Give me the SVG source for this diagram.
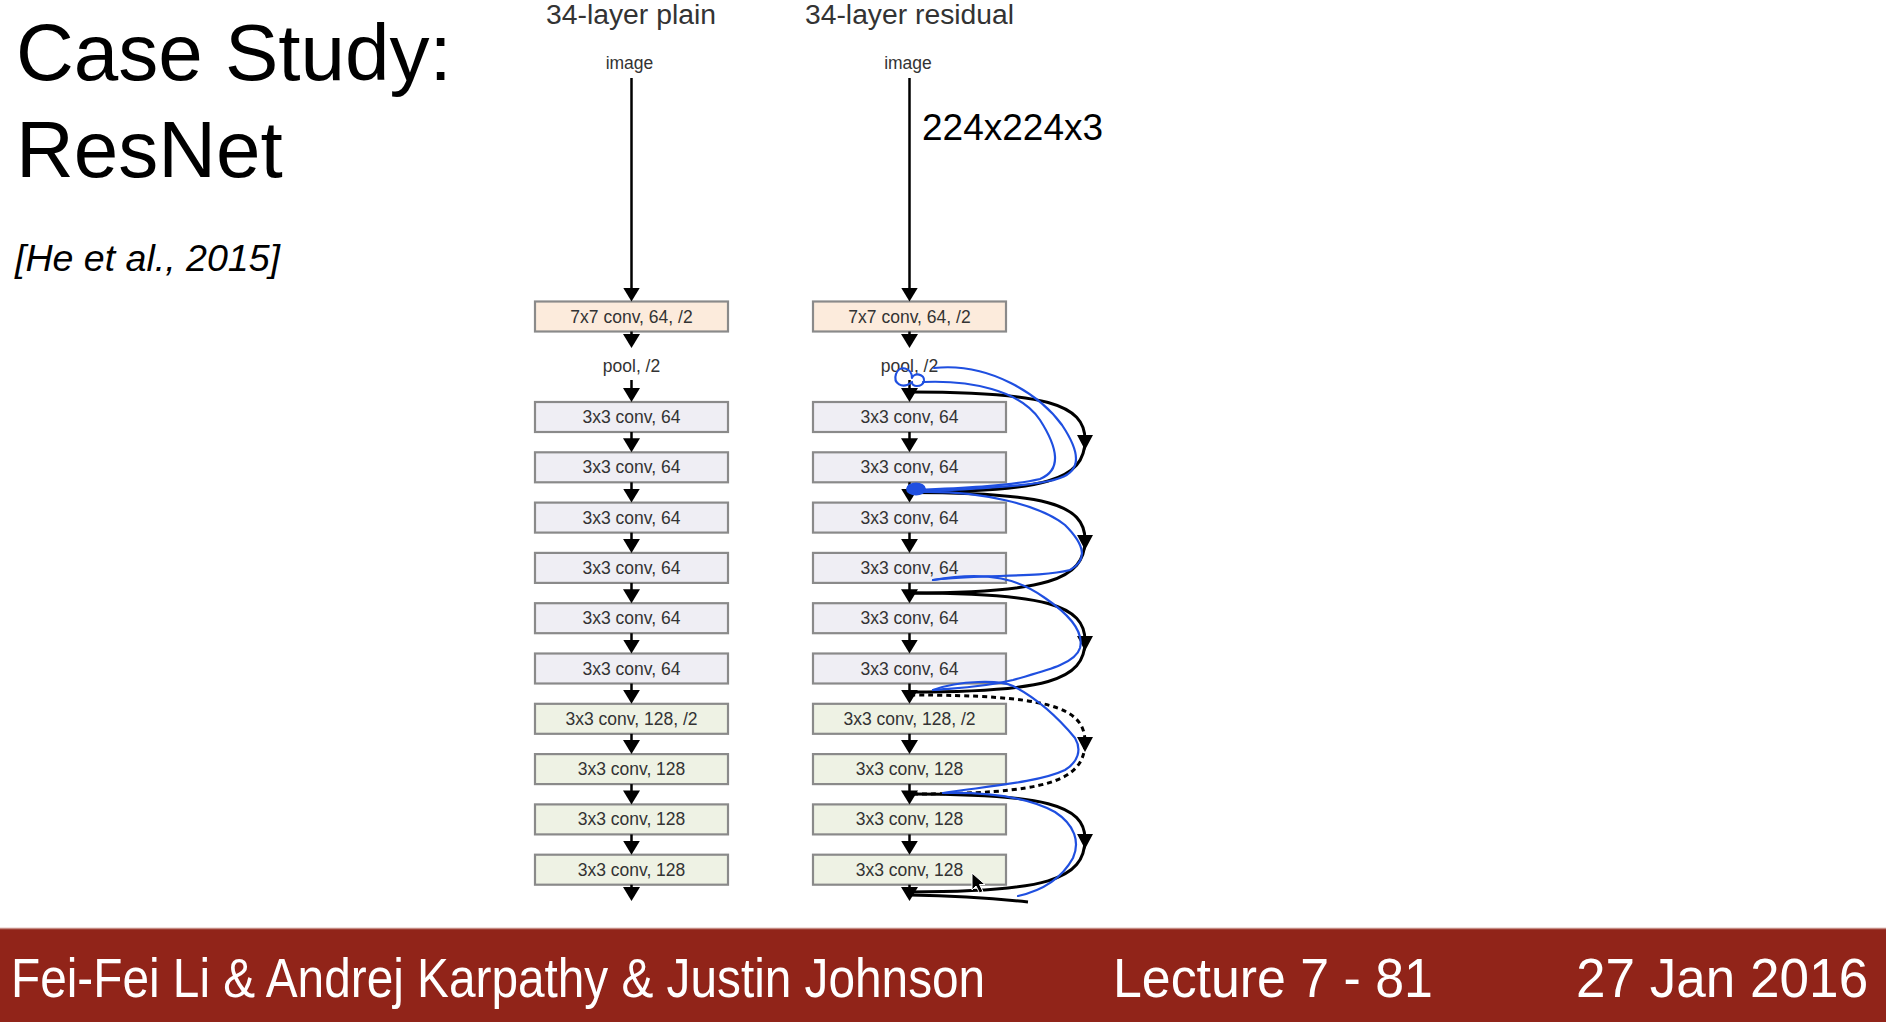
<svg xmlns="http://www.w3.org/2000/svg" width="1886" height="1022" viewBox="0 0 1886 1022">
<style>
.title{font-family:"Liberation Sans",Arial,sans-serif;font-size:80px;fill:#000}
.cite{font-family:"Liberation Sans",Arial,sans-serif;font-size:36px;font-style:italic;fill:#000}
.hdr{font-family:"Liberation Sans",Arial,sans-serif;font-size:27px;fill:#333;text-anchor:middle}
.lbl{font-family:"Liberation Sans",Arial,sans-serif;font-size:17.5px;fill:#333;text-anchor:middle}
.dim{font-family:"Liberation Sans",Arial,sans-serif;font-size:37px;fill:#000}
.box{stroke:#8a8a8a;stroke-width:2.2}
.b7{fill:#fcebdc}
.b64{fill:#efeef4}
.b128{fill:#eef2e4}
.v{stroke:#000;stroke-width:2.5;fill:none;marker-end:url(#ah)}
.sc{stroke:#000;stroke-width:3;fill:none}
.dash{stroke-dasharray:5 4}
.bl{stroke:#1f4fe0;stroke-width:2.2;fill:none;stroke-linecap:round;stroke-linejoin:round}
.foot{font-family:"Liberation Sans",Arial,sans-serif;font-size:56px;fill:#fff}
</style>
<defs>
<marker id="ah" markerUnits="userSpaceOnUse" markerWidth="15" markerHeight="17" refX="11" refY="8.5" orient="auto">
<path d="M0,0 L14,8.5 L0,17 z" fill="#000"/>
</marker>
</defs>
<rect width="1886" height="1022" fill="#fff"/>

<g id="title">
<text class="title" x="16" y="80">Case Study:</text>
<text class="title" x="16" y="177">ResNet</text>
<text class="cite" x="15" y="271" textLength="265" lengthAdjust="spacingAndGlyphs">[He et al., 2015]</text>
</g>

<g id="headers">
<text class="hdr" x="631" y="24" textLength="170" lengthAdjust="spacingAndGlyphs">34-layer plain</text>
<text class="hdr" x="909.5" y="24" textLength="209" lengthAdjust="spacingAndGlyphs">34-layer residual</text>
</g>

<!-- plain column nodes -->
<g id="plain-image"><text class="lbl" x="629.5" y="69">image</text></g>
<g id="plain-conv1"><rect class="box b7" x="535" y="301.5" width="193" height="30"/><text class="lbl" x="631.5" y="322.5">7x7 conv, 64, /2</text></g>
<g id="plain-pool"><text class="lbl" x="631.5" y="372">pool, /2</text></g>
<g id="plain-c1"><rect class="box b64" x="535" y="402" width="193" height="30"/><text class="lbl" x="631.5" y="423">3x3 conv, 64</text></g>
<g id="plain-c2"><rect class="box b64" x="535" y="452.3" width="193" height="30"/><text class="lbl" x="631.5" y="473.3">3x3 conv, 64</text></g>
<g id="plain-c3"><rect class="box b64" x="535" y="502.6" width="193" height="30"/><text class="lbl" x="631.5" y="523.6">3x3 conv, 64</text></g>
<g id="plain-c4"><rect class="box b64" x="535" y="552.9" width="193" height="30"/><text class="lbl" x="631.5" y="573.9">3x3 conv, 64</text></g>
<g id="plain-c5"><rect class="box b64" x="535" y="603.2" width="193" height="30"/><text class="lbl" x="631.5" y="624.2">3x3 conv, 64</text></g>
<g id="plain-c6"><rect class="box b64" x="535" y="653.5" width="193" height="30"/><text class="lbl" x="631.5" y="674.5">3x3 conv, 64</text></g>
<g id="plain-c7"><rect class="box b128" x="535" y="703.8" width="193" height="30"/><text class="lbl" x="631.5" y="724.8">3x3 conv, 128, /2</text></g>
<g id="plain-c8"><rect class="box b128" x="535" y="754.1" width="193" height="30"/><text class="lbl" x="631.5" y="775.1">3x3 conv, 128</text></g>
<g id="plain-c9"><rect class="box b128" x="535" y="804.4" width="193" height="30"/><text class="lbl" x="631.5" y="825.4">3x3 conv, 128</text></g>
<g id="plain-c10"><rect class="box b128" x="535" y="854.7" width="193" height="30"/><text class="lbl" x="631.5" y="875.7">3x3 conv, 128</text></g>

<!-- residual column nodes -->
<g id="res-image"><text class="lbl" x="908" y="69">image</text></g>
<g id="res-dim"><text class="dim" x="922" y="140">224x224x3</text></g>
<g id="res-conv1"><rect class="box b7" x="813" y="301.5" width="193" height="30"/><text class="lbl" x="909.5" y="322.5">7x7 conv, 64, /2</text></g>
<g id="res-pool"><text class="lbl" x="909.5" y="372">pool, /2</text></g>
<g id="res-c1"><rect class="box b64" x="813" y="402" width="193" height="30"/><text class="lbl" x="909.5" y="423">3x3 conv, 64</text></g>
<g id="res-c2"><rect class="box b64" x="813" y="452.3" width="193" height="30"/><text class="lbl" x="909.5" y="473.3">3x3 conv, 64</text></g>
<g id="res-c3"><rect class="box b64" x="813" y="502.6" width="193" height="30"/><text class="lbl" x="909.5" y="523.6">3x3 conv, 64</text></g>
<g id="res-c4"><rect class="box b64" x="813" y="552.9" width="193" height="30"/><text class="lbl" x="909.5" y="573.9">3x3 conv, 64</text></g>
<g id="res-c5"><rect class="box b64" x="813" y="603.2" width="193" height="30"/><text class="lbl" x="909.5" y="624.2">3x3 conv, 64</text></g>
<g id="res-c6"><rect class="box b64" x="813" y="653.5" width="193" height="30"/><text class="lbl" x="909.5" y="674.5">3x3 conv, 64</text></g>
<g id="res-c7"><rect class="box b128" x="813" y="703.8" width="193" height="30"/><text class="lbl" x="909.5" y="724.8">3x3 conv, 128, /2</text></g>
<g id="res-c8"><rect class="box b128" x="813" y="754.1" width="193" height="30"/><text class="lbl" x="909.5" y="775.1">3x3 conv, 128</text></g>
<g id="res-c9"><rect class="box b128" x="813" y="804.4" width="193" height="30"/><text class="lbl" x="909.5" y="825.4">3x3 conv, 128</text></g>
<g id="res-c10"><rect class="box b128" x="813" y="854.7" width="193" height="30"/><text class="lbl" x="909.5" y="875.7">3x3 conv, 128</text></g>

<g id="connectors">
<!-- plain -->
<line class="v" x1="631.5" y1="78" x2="631.5" y2="298.5"/>
<line class="v" x1="631.5" y1="331.5" x2="631.5" y2="345"/>
<line class="v" x1="631.5" y1="380" x2="631.5" y2="399"/>
<line class="v" x1="631.5" y1="432" x2="631.5" y2="449.3"/>
<line class="v" x1="631.5" y1="482.3" x2="631.5" y2="499.6"/>
<line class="v" x1="631.5" y1="532.6" x2="631.5" y2="549.9"/>
<line class="v" x1="631.5" y1="582.9" x2="631.5" y2="600.2"/>
<line class="v" x1="631.5" y1="633.2" x2="631.5" y2="650.5"/>
<line class="v" x1="631.5" y1="683.5" x2="631.5" y2="700.8"/>
<line class="v" x1="631.5" y1="733.8" x2="631.5" y2="751.1"/>
<line class="v" x1="631.5" y1="784.1" x2="631.5" y2="801.4"/>
<line class="v" x1="631.5" y1="834.4" x2="631.5" y2="851.7"/>
<line class="v" x1="631.5" y1="884.7" x2="631.5" y2="898"/>
<!-- residual main -->
<line class="v" x1="909.5" y1="78" x2="909.5" y2="298.5"/>
<line class="v" x1="909.5" y1="331.5" x2="909.5" y2="345"/>
<line class="v" x1="909.5" y1="380" x2="909.5" y2="399"/>
<line class="v" x1="909.5" y1="432" x2="909.5" y2="449.3"/>
<line class="v" x1="909.5" y1="482.3" x2="909.5" y2="499.6"/>
<line class="v" x1="909.5" y1="532.6" x2="909.5" y2="549.9"/>
<line class="v" x1="909.5" y1="582.9" x2="909.5" y2="600.2"/>
<line class="v" x1="909.5" y1="633.2" x2="909.5" y2="650.5"/>
<line class="v" x1="909.5" y1="683.5" x2="909.5" y2="700.8"/>
<line class="v" x1="909.5" y1="733.8" x2="909.5" y2="751.1"/>
<line class="v" x1="909.5" y1="784.1" x2="909.5" y2="801.4"/>
<line class="v" x1="909.5" y1="834.4" x2="909.5" y2="851.7"/>
<line class="v" x1="909.5" y1="884.7" x2="909.5" y2="898"/>
<!-- shortcuts -->
<path class="sc" d="M910,392 C1045,392 1085,404 1085,440 C1085,480 1045,492 910,492"/>
<polygon points="1077,435 1093,435 1085,450" fill="#000"/>
<path class="sc" d="M910,492.5 C1045,492.5 1085,504 1085,540 C1085,580 1045,593 910,593"/>
<polygon points="1077,535 1093,535 1085,550" fill="#000"/>
<path class="sc" d="M910,593 C1045,593 1085,605 1085,641 C1085,681 1045,692 910,692"/>
<polygon points="1077,636 1093,636 1085,651" fill="#000"/>
<path class="sc dash" d="M910,695 C1045,695 1085,706 1085,742 C1085,782 1045,794 910,794"/>
<polygon points="1077,737 1093,737 1085,752" fill="#000"/>
<path class="sc" d="M910,794 C1045,794 1085,805 1085,839 C1085,880 1045,892 910,892"/>
<polygon points="1077,834 1093,834 1085,849" fill="#000"/>
<path class="sc" d="M910,895 C960,896 1000,899 1028,902"/>
</g>

<g id="annotations">
<path class="bl" d="M934,368 C990,362 1040,395 1062,425 C1080,452 1082,470 1060,478 C1040,486 980,488 918,492"/>
<path class="bl" d="M923,382 C970,380 1020,390 1040,420 C1058,448 1062,470 1040,479 C1010,486 960,488 918,490"/>
<path class="bl" d="M912,382 C902,390 893,383 896,374 C899,365 912,367 912,378 C914,372 925,374 924,381 C922,388 911,387 912,382"/>
<ellipse cx="916" cy="489" rx="9" ry="5.5" fill="#1f4fe0" stroke="#1f4fe0" stroke-width="2"/>
<path class="bl" d="M918,492 C980,490 1040,505 1065,525 C1085,545 1088,560 1070,570 C1040,578 980,574 933,580"/>
<path class="bl" d="M933,580 C990,570 1020,580 1045,598 C1070,615 1084,632 1080,648 C1075,665 1040,672 1013,680 C980,688 955,688 933,690"/>
<path class="bl" d="M933,690 C960,680 1000,680 1013,686 C1040,700 1060,720 1075,738 C1082,750 1078,762 1065,770 C1040,782 990,786 943,793"/>
<path class="bl" d="M943,793 C990,792 1030,798 1055,812 C1075,825 1080,842 1073,858 C1062,878 1045,890 1018,896"/>
<polygon points="972,873 972,890 976,886 979.5,893 983,891.5 979.5,884.5 985,884.5" fill="#000" stroke="#fff" stroke-width="1"/>
</g>

<g id="footer">
<rect x="0" y="928" width="1886" height="94" fill="#912419"/>
<line x1="0" y1="928.5" x2="1886" y2="928.5" stroke="#c58b84" stroke-width="1.5"/>
<text class="foot" transform="translate(11,997) scale(0.853,1)" x="0" y="0">Fei-Fei Li &amp; Andrej Karpathy &amp; Justin Johnson</text>
<text class="foot" transform="translate(1113,997) scale(0.926,1)" x="0" y="0">Lecture 7 - 81</text>
<text class="foot" transform="translate(1576,997) scale(0.948,1)" x="0" y="0">27 Jan 2016</text>
</g>
</svg>
